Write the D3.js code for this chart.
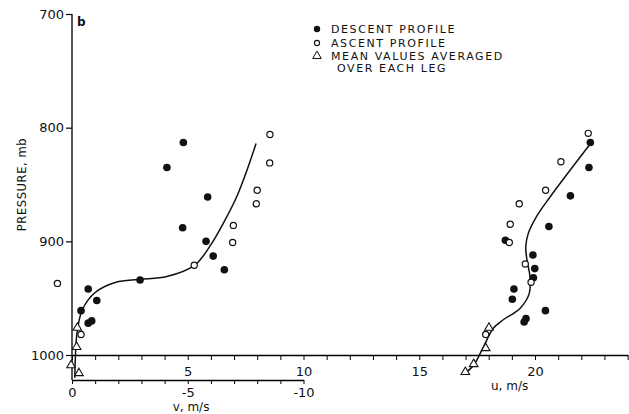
<!DOCTYPE html>
<html>
<head>
<meta charset="utf-8">
<script src="https://cdn.jsdelivr.net/npm/d3@7"></script>
<style>
  body { margin: 0; background: #fff; }
  svg { display: block; }
  text { font-family: "DejaVu Sans", sans-serif; fill: #111; }
</style>
</head>
<body>
<svg id="chart" width="629" height="414"></svg>
<script>
// v component (m/s, negative to the right) vs pressure (mb)
const descentV = [[-4.81, 813], [-4.10, 835], [-5.86, 861], [-4.78, 888], [-5.79, 900], [-6.10, 913],
  [-6.58, 925], [-2.94, 934], [-0.70, 942], [-1.07, 952], [-0.39, 961], [-0.85, 970], [-0.70, 972]];
const ascentV = [[-8.55, 806], [-8.54, 831], [-8.00, 855], [-7.96, 867], [-6.97, 886], [-6.94, 901],
  [-5.28, 921], [0.63, 937], [-0.39, 982]];
const meanV = [[-0.23, 976], [-0.20, 993], [0.04, 1009], [-0.30, 1016]];
const fitV = [[-0.12, 1020], [-0.15, 1000], [-0.22, 980], [-0.45, 960], [-1.0, 945], [-1.9, 936],
  [-2.9, 933.5], [-4.1, 931], [-5.3, 921], [-6.03, 902], [-6.54, 884], [-7.11, 861], [-7.55, 838], [-7.95, 814]];

// u component (m/s) vs pressure (mb)
const descentU = [[22.39, 813], [22.33, 835], [21.53, 860], [20.60, 887], [18.72, 899], [19.91, 912],
  [19.99, 924], [19.93, 932], [19.09, 942], [19.02, 951], [20.45, 961], [19.61, 968], [19.53, 971]];
const ascentU = [[22.30, 805], [21.12, 830], [20.46, 855], [19.32, 867], [18.93, 885], [18.89, 901],
  [19.58, 920], [19.83, 936], [17.87, 982]];
const meanU = [[18.01, 976], [17.87, 994], [17.35, 1008], [16.99, 1015]];
const fitU = [[16.98, 1016], [17.35, 1009], [17.77, 993], [18.2, 976.5], [18.63, 969], [19.35, 959],
  [19.75, 946], [19.78, 931], [19.65, 916], [19.6, 905], [19.71, 893], [20.07, 878], [20.65, 861], [22.4, 814]];

const pressureTicks = [700, 800, 900, 1000];
const legendItems = ["DESCENT PROFILE", "ASCENT PROFILE", "MEAN VALUES AVERAGED", "OVER EACH LEG"];

const svg = d3.select("#chart");
const unit = 23.15;
const x = d3.scaleLinear().domain([0, 24]).range([72, 72 + 24 * unit]);
const xv = d3.scaleLinear().domain([0, -10]).range([72, 72 + 10 * unit]);
const y = d3.scaleLinear().domain([700, 1000]).range([14, 355]);
const vAxisY = 380;

// eje de presion
const yAxis = svg.append("g")
  .attr("transform", "translate(72,0)")
  .call(d3.axisLeft(y).tickValues(pressureTicks).tickSize(6).tickPadding(2).tickFormat(d3.format("d")));
yAxis.select(".domain").remove();
yAxis.selectAll("text").style("font-size", "13px");
yAxis.selectAll("line").attr("stroke-width", 1.2);
svg.append("line")
  .attr("x1", 72).attr("x2", 72)
  .attr("y1", y(700)).attr("y2", vAxisY)
  .attr("stroke", "#111").attr("stroke-width", 1.4);

// eje u
const uAxis = svg.append("g")
  .attr("transform", `translate(0,${y(1000)})`)
  .call(d3.axisBottom(x).tickValues(d3.range(0, 25)).tickSize(5).tickPadding(7).tickSizeOuter(0)
    .tickFormat(d => (d > 0 && d % 5 === 0) ? String(d) : ""));
uAxis.selectAll("text").style("font-size", "13px");
uAxis.select(".domain").attr("stroke-width", 1.3);

// eje v
const vAxis = svg.append("g")
  .attr("transform", `translate(0,${vAxisY})`)
  .call(d3.axisBottom(xv).tickValues(d3.range(0, -11, -1)).tickSize(4).tickPadding(4).tickSizeOuter(0)
    .tickFormat(d => d % 5 === 0 ? String(d) : ""));
vAxis.selectAll("text").style("font-size", "13px");
vAxis.select(".domain").attr("stroke-width", 1.3);

// etiquetas
svg.append("text")
  .attr("transform", `translate(26,${y(850)}) rotate(-90)`)
  .attr("text-anchor", "middle")
  .style("font-size", "11.5px").style("letter-spacing", "0.6px")
  .text("PRESSURE, mb");
svg.append("text").attr("x", x(18.1)).attr("y", 390)
  .style("font-size", "12px").text("u, m/s");
svg.append("text").attr("x", xv(-4.35)).attr("y", 411)
  .style("font-size", "12px").text("v, m/s");
svg.append("text").attr("x", 77).attr("y", 26)
  .style("font-size", "12px").style("font-weight", "bold").text("b");

// curvas ajustadas
const lineV = d3.line().x(d => xv(d[0])).y(d => y(d[1])).curve(d3.curveCatmullRom);
const lineU = d3.line().x(d => x(d[0])).y(d => y(d[1])).curve(d3.curveCatmullRom);
svg.append("path").datum(fitV).attr("d", lineV)
  .attr("fill", "none").attr("stroke", "#111").attr("stroke-width", 1.5);
svg.append("path").datum(fitU).attr("d", lineU)
  .attr("fill", "none").attr("stroke", "#111").attr("stroke-width", 1.5);

const tri = d3.symbol().type(d3.symbolTriangle).size(32);

function drawSet(data, sx, kind) {
  if (kind === "filled") {
    svg.append("g").selectAll("circle").data(data).enter().append("circle")
      .attr("cx", d => sx(d[0])).attr("cy", d => y(d[1])).attr("r", 3.8).attr("fill", "#111");
  } else if (kind === "open") {
    svg.append("g").selectAll("circle").data(data).enter().append("circle")
      .attr("cx", d => sx(d[0])).attr("cy", d => y(d[1])).attr("r", 3.1)
      .attr("fill", "#fff").attr("stroke", "#111").attr("stroke-width", 1.2);
  } else {
    svg.append("g").selectAll("path").data(data).enter().append("path")
      .attr("d", tri)
      .attr("transform", d => `translate(${sx(d[0])},${y(d[1])})`)
      .attr("fill", "#fff").attr("stroke", "#111").attr("stroke-width", 1.1);
  }
}
drawSet(descentV, xv, "filled");
drawSet(ascentV, xv, "open");
drawSet(meanV, xv, "tri");
drawSet(descentU, x, "filled");
drawSet(ascentU, x, "open");
drawSet(meanU, x, "tri");

// leyenda
const legend = svg.append("g").attr("transform", "translate(317,29)");
legend.append("circle").attr("cx", 0).attr("cy", 0).attr("r", 3.2).attr("fill", "#111");
legend.append("circle").attr("cx", 0).attr("cy", 14).attr("r", 2.6)
  .attr("fill", "#fff").attr("stroke", "#111").attr("stroke-width", 1.1);
legend.append("path").attr("d", tri).attr("transform", "translate(0,27)")
  .attr("fill", "#fff").attr("stroke", "#111").attr("stroke-width", 1);
legend.selectAll("text.leg").data(legendItems).enter().append("text")
  .attr("class", "leg")
  .attr("x", (d, i) => i === 3 ? 20 : 14)
  .attr("y", (d, i) => [0, 14, 27, 39][i])
  .attr("dy", "0.36em")
  .style("font-size", "11px").style("letter-spacing", "1.6px")
  .text(d => d);
</script>
</body>
</html>
